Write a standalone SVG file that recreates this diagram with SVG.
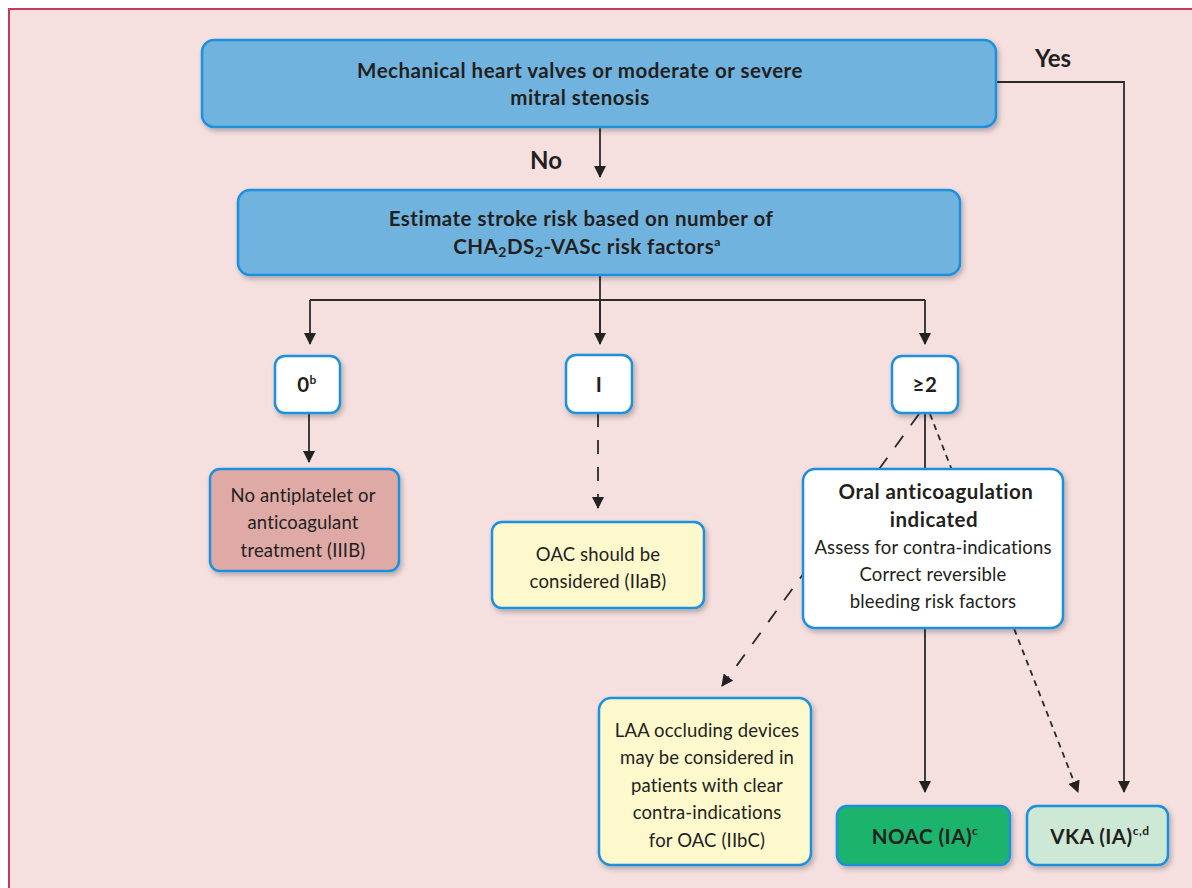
<svg xmlns="http://www.w3.org/2000/svg" width="1192" height="888" viewBox="0 0 1192 888">
<defs>
<marker id="ah" viewBox="0 0 12 12" refX="11" refY="6" markerWidth="12" markerHeight="12" markerUnits="userSpaceOnUse" orient="auto">
<path d="M0,0 L12,6 L0,12 z" fill="#222"/>
</marker>
<filter id="sh" x="-10%" y="-10%" width="130%" height="140%">
<feDropShadow dx="2" dy="3" stdDeviation="2.5" flood-color="#000" flood-opacity="0.25"/>
</filter>
</defs>
<style>
.box{stroke:#1a90dc;stroke-width:2.5;filter:url(#sh)}
.blue{fill:#6fb3de}
.white{fill:#ffffff}
.yellow{fill:#fdf9cd}
.red{fill:#dfaaa6}
.green{fill:#1fb36c}
.lgreen{fill:#cde9d6}
text{font-family:Lato,"Open Sans","Liberation Sans",sans-serif;fill:#231f20;text-anchor:middle}
.b{font-weight:bold;font-size:20.5px;letter-spacing:0.5px}
.r{font-size:18.5px;letter-spacing:0.15px}
.lbl{font-weight:bold;font-size:24px}
.ln{stroke:#2a2a2a;stroke-width:1.8;fill:none}
.dash{stroke-dasharray:14 13}
.fine{stroke-dasharray:6 5}
</style>
<rect x="0" y="0" width="1192" height="888" fill="#ffffff"/>
<rect x="9" y="9" width="1200" height="900" fill="#f5dfdf" stroke="#c6395c" stroke-width="2"/>

<g id="connectors">
<path class="ln" d="M996,82 H1124 V792" stroke="#555" marker-end="url(#ah)"/>
<path class="ln" d="M600,127 V177" marker-end="url(#ah)"/>
<path class="ln" d="M600,275 V343"/>
<path class="ln" d="M310,300 H925"/>
<path class="ln" d="M310,300 V344" marker-end="url(#ah)"/>
<path class="ln" d="M925,300 V344" marker-end="url(#ah)"/>
<path class="ln" d="M600,300 V344" marker-end="url(#ah)"/>
<path class="ln" d="M309,413 V462" marker-end="url(#ah)"/>
<path class="ln dash" d="M598,413 V508" marker-end="url(#ah)"/>
<path class="ln" d="M925,413 V470"/>
<path class="ln dash" d="M919,414 L722,686" marker-end="url(#ah)"/>
<path class="ln fine" d="M930,414 L1078,792" marker-end="url(#ah)"/>
<path class="ln" d="M925,628 V792" marker-end="url(#ah)"/>
</g>

<g id="n-mechanical">
<rect class="box blue" x="202" y="40" width="794" height="87" rx="12"/>
<text class="b" x="580" y="78">Mechanical heart valves or moderate or severe</text>
<text class="b" x="580" y="105">mitral stenosis</text>
</g>
<text class="lbl" x="1053" y="67">Yes</text>
<text class="lbl" x="546" y="169">No</text>

<g id="n-estimate">
<rect class="box blue" x="238" y="190" width="722" height="85" rx="12"/>
<text class="b" x="581" y="226">Estimate stroke risk based on number of</text>
<text class="b" x="587" y="254">CHA<tspan font-size="14" dy="3">2</tspan><tspan dy="-3">DS</tspan><tspan font-size="14" dy="3">2</tspan><tspan dy="-3">-VASc risk factors</tspan><tspan font-size="12" dy="-8">a</tspan></text>
</g>

<g id="n-zero">
<rect class="box white" x="275" y="356" width="65" height="57" rx="10"/>
<text class="b" x="307" y="392">0<tspan font-size="12" dy="-8">b</tspan></text>
</g>
<g id="n-one">
<rect class="box white" x="566" y="355" width="66" height="58" rx="10"/>
<text class="b" x="599" y="392">I</text>
</g>
<g id="n-two">
<rect class="box white" x="892" y="356" width="66" height="57" rx="10"/>
<text class="b" x="925" y="392">≥2</text>
</g>

<g id="n-none">
<rect class="box red" x="210" y="469" width="189" height="102" rx="10"/>
<text class="r" x="303" y="502">No antiplatelet or</text>
<text class="r" x="303" y="529">anticoagulant</text>
<text class="r" x="303" y="557">treatment (IIIB)</text>
</g>

<g id="n-oac">
<rect class="box yellow" x="492" y="522" width="212" height="86" rx="10"/>
<text class="r" x="598" y="561">OAC should be</text>
<text class="r" x="598" y="588">considered (IIaB)</text>
</g>

<g id="n-oral">
<rect class="box white" x="803" y="469" width="260" height="159" rx="12"/>
<text class="b" x="936" y="499">Oral anticoagulation</text>
<text class="b" x="934" y="527">indicated</text>
<text class="r" x="933" y="554">Assess for contra-indications</text>
<text class="r" x="933" y="581">Correct reversible</text>
<text class="r" x="933" y="608">bleeding risk factors</text>
</g>

<g id="n-laa">
<rect class="box yellow" x="599" y="698" width="212" height="167" rx="12"/>
<text class="r" x="707" y="737">LAA occluding devices</text>
<text class="r" x="707" y="764">may be considered in</text>
<text class="r" x="707" y="792">patients with clear</text>
<text class="r" x="707" y="819">contra-indications</text>
<text class="r" x="707" y="847">for OAC (IIbC)</text>
</g>

<g id="n-noac">
<rect class="box green" x="837" y="806" width="173" height="59" rx="10"/>
<text class="b" x="925" y="844">NOAC (IA)<tspan font-size="12" dy="-9">c</tspan></text>
</g>
<g id="n-vka">
<rect class="box lgreen" x="1027" y="806" width="141" height="59" rx="10"/>
<text class="b" x="1100" y="844">VKA (IA)<tspan font-size="12" dy="-9">c,d</tspan></text>
</g>
</svg>
